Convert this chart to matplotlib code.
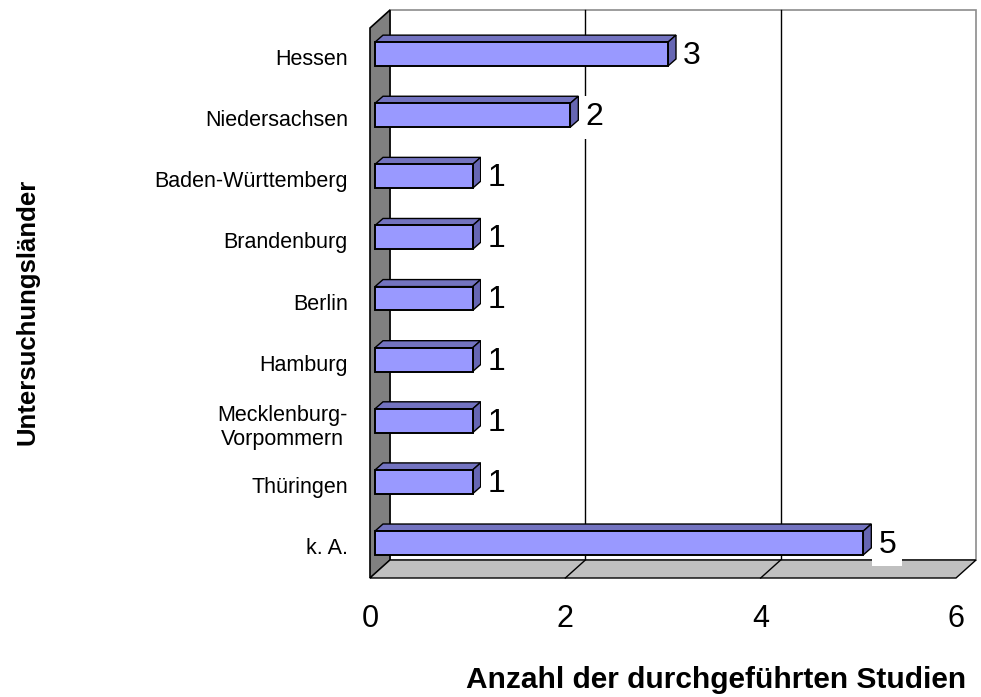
"""3D-style horizontal bar chart: Untersuchungsländer."""

import matplotlib

matplotlib.use("Agg")

import matplotlib.pyplot as plt
from matplotlib.patches import Polygon, Rectangle
from matplotlib.transforms import ScaledTranslation

plt.rcParams["font.family"] = ["Liberation Sans", "DejaVu Sans"]

laender = [
    "Hessen",
    "Niedersachsen",
    "Baden-Württemberg",
    "Brandenburg",
    "Berlin",
    "Hamburg",
    "Mecklenburg-\nVorpommern",
    "Thüringen",
    "k. A.",
]
studien = [3, 2, 1, 1, 1, 1, 1, 1, 5]
x_ticks = [0, 2, 4, 6]

W, H, DPI = 981, 697, 100
fig = plt.figure(figsize=(W / DPI, H / DPI), dpi=DPI)
# axes = plane of the bar front faces (pixel geometry)
ax = fig.add_axes([375 / W, (H - 573.5) / H, 586 / W, 550 / H])
ax.set_xlim(0, 6)
ax.set_ylim(len(laender) - 0.5, -0.5)
for s in ax.spines.values():
    s.set_visible(False)
ax.patch.set_visible(False)


def shifted(dx, dy):
    # pixel offset (dy up positive)
    return ax.transData + ScaledTranslation(dx / DPI, dy / DPI, fig.dpi_scale_trans)


front = shifted(-5, -4.5)
back = shifted(15, 13.5)
depth = shifted(8, 7)
inv = ax.transData.inverted()


def poly(pts, **kw):
    ax.add_patch(Polygon([inv.transform(p) for p in pts], closed=True,
                         clip_on=False, **kw))


y0, y1 = len(laender) - 0.5, -0.5

# back wall
ax.add_patch(Rectangle((0, y1), 6, y0 - y1, transform=back, facecolor="white",
                       edgecolor="#8c8c8c", lw=1.2, zorder=1, clip_on=False))
for xv in x_ticks[1:-1]:
    ax.plot([xv, xv], [y0, y1], transform=back, color="black", lw=1.0,
            zorder=2, clip_on=False)

# left wall
poly([front.transform((0, y0)), front.transform((0, y1)),
      back.transform((0, y1)), back.transform((0, y0))],
     facecolor="#808080", edgecolor="black", lw=1.2, zorder=3)

# floor
poly([front.transform((0, y0)), front.transform((6, y0)),
      back.transform((6, y0)), back.transform((0, y0))],
     facecolor="#c0c0c0", edgecolor="black", lw=1.0, zorder=3)
for xv in x_ticks[1:-1]:
    a = inv.transform(front.transform((xv, y0)))
    b = inv.transform(back.transform((xv, y0)))
    ax.plot([a[0], b[0]], [a[1], b[1]], color="black", lw=1.0, zorder=3,
            clip_on=False)

# bars
bh = 0.39
ypos = list(range(len(laender)))
ax.barh(ypos, studien, height=bh, color="#9999ff", edgecolor="black", lw=1.4,
        zorder=6, clip_on=False)
for yy, v in zip(ypos, studien):
    top = [(0, yy - bh / 2), (v, yy - bh / 2)]
    poly([ax.transData.transform(p) for p in top]
         + [depth.transform(p) for p in top[::-1]],
         facecolor="#7373c0", edgecolor="black", lw=1.0, zorder=5)
    side = [(v, yy - bh / 2), (v, yy + bh / 2)]
    poly([ax.transData.transform(p) for p in side]
         + [depth.transform(p) for p in side[::-1]],
         facecolor="#6666b3", edgecolor="black", lw=1.0, zorder=5)
    ax.annotate(str(v), (v, yy), xytext=(15, -2), textcoords="offset pixels",
                ha="left", va="center", fontsize=23, zorder=7,
                bbox=dict(boxstyle="square,pad=0.2", facecolor="white",
                          edgecolor="none"))

# ticks
ax.set_xticks(x_ticks)
ax.set_xticklabels([str(x) for x in x_ticks], fontsize=22)
ax.set_yticks(ypos)
ax.set_yticklabels(laender, fontsize=15.5, ha="right", multialignment="center")
ax.tick_params(axis="both", length=0)
ax.tick_params(axis="x", pad=20)
ax.tick_params(axis="y", pad=16)
off = ScaledTranslation(-5 / DPI, -3 / DPI, fig.dpi_scale_trans)
for lab in ax.get_xticklabels() + ax.get_yticklabels():
    lab.set_transform(lab.get_transform() + off)

fig.text(716 / W, 1 - 680 / H, "Anzahl der durchgeführten Studien", fontsize=21.5,
         fontweight="bold", ha="center", va="center")
fig.text(28 / W, 1 - 312 / H, "Untersuchungsländer", fontsize=18.5,
         fontweight="bold", ha="center", va="center", rotation=90)

fig.savefig("out.png", dpi=DPI)
